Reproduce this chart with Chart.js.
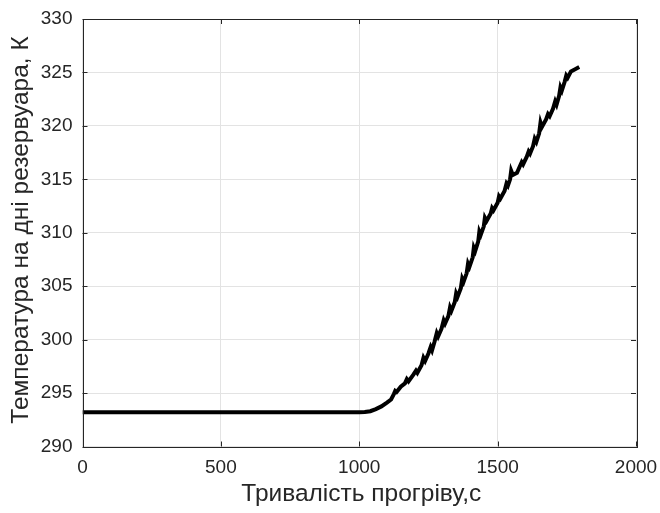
<!DOCTYPE html>
<html>
<head>
<meta charset="utf-8">
<script src="https://cdn.jsdelivr.net/npm/chart.js@4.4.1/dist/chart.umd.min.js"></script>
<style>
html,body{margin:0;padding:0;background:#fff;}
#wrap{width:660px;height:513px;position:relative;}
</style>
</head>
<body>
<div id="wrap"><canvas id="c" width="660" height="513"></canvas></div>
<script>
const timeS = [0,1000,1020,1040,1060,1080,1100,1115,1125,1130,1135,1150,1165,1172,1178,1195,1205,1210,1225,1232,1238,1250,1258,1263,1272,1280,1285,1297,1305,1310,1322,1328,1333,1345,1350,1355,1367,1372,1377,1388,1393,1398,1410,1414,1419,1430,1434,1439,1450,1454,1460,1475,1480,1485,1500,1505,1510,1525,1532,1537,1545,1549,1555,1570,1580,1587,1592,1605,1612,1617,1628,1634,1640,1650,1655,1660,1675,1682,1688,1700,1708,1713,1722,1727,1732,1742,1748,1753,1765,1780,1795];
const tempK = [293.2,293.2,293.22,293.3,293.5,293.75,294.1,294.4,294.9,295.2,295.1,295.6,295.9,296.3,296.1,296.7,297.1,296.9,297.6,298.3,298.0,298.7,299.3,299.0,299.8,300.6,300.3,301.0,301.8,301.5,302.2,303.0,302.7,303.5,304.3,304.0,304.8,305.7,305.4,306.2,307.1,306.8,307.7,308.6,308.3,309.2,310.1,309.8,310.6,311.4,311.1,311.8,312.3,312.1,312.8,313.4,313.2,313.9,314.6,314.4,315.0,315.8,315.4,315.6,316.2,316.6,316.4,317.1,317.6,317.4,318.1,318.8,318.5,319.3,320.3,319.9,320.6,321.1,320.9,321.6,322.3,322.0,322.8,323.6,323.3,324.1,324.7,324.5,325.1,325.3,325.5];
const xTicks = [0,500,1000,1500,2000];
const yTicks = [290,295,300,305,310,315,320,325,330];
const xTitle = 'Тривалість прогріву,с';
const yTitle = 'Температура на дні резервуара, К';

const points = timeS.map((t,i)=>({x:t,y:tempK[i]}));
const FONT = '"Liberation Sans", Arial, sans-serif';
const TXT = '#262626';

const boxPlugin = {
  id:'box',
  afterDraw(chart){
    const {ctx, chartArea:a, scales} = chart;
    ctx.save();
    ctx.strokeStyle = '#262626';
    ctx.lineWidth = 1;
    ctx.strokeRect(Math.round(a.left)+0.5, Math.round(a.top)+0.5, Math.round(a.right-a.left), Math.round(a.bottom-a.top));
    const tl = 5;
    ctx.beginPath();
    xTicks.forEach(v=>{
      const px = Math.round(scales.x.getPixelForValue(v))+0.5;
      ctx.moveTo(px,a.bottom); ctx.lineTo(px,a.bottom-tl);
      ctx.moveTo(px,a.top); ctx.lineTo(px,a.top+tl);
    });
    yTicks.forEach(v=>{
      const py = Math.round(scales.y.getPixelForValue(v))+0.5;
      ctx.moveTo(a.left,py); ctx.lineTo(a.left+tl,py);
      ctx.moveTo(a.right,py); ctx.lineTo(a.right-tl,py);
    });
    ctx.stroke();
    // axis titles
    ctx.fillStyle = TXT;
    ctx.font = '24.5px ' + FONT;
    ctx.textAlign = 'center';
    ctx.textBaseline = 'middle';
    ctx.fillText(xTitle, (a.left+a.right)/2 + 2, 494);
    ctx.translate(21, 230);
    ctx.rotate(-Math.PI/2);
    ctx.fillText(yTitle, 0, 0);
    ctx.restore();
  }
};

new Chart(document.getElementById('c'), {
  type:'scatter',
  data:{datasets:[{
    data:points,
    showLine:true,
    borderColor:'#000',
    borderWidth:4,
    pointRadius:0,
    tension:0,
    fill:false
  }]},
  options:{
    responsive:false,
    animation:false,
    devicePixelRatio:1,
    layout:{padding:{left:0,right:24,top:19,bottom:0}},
    plugins:{legend:{display:false},tooltip:{enabled:false}},
    scales:{
      x:{
        type:'linear', min:0, max:2000,
        afterBuildTicks(s){ s.ticks = xTicks.map(v=>({value:v})); },
        afterFit(s){ s.height = 66.5; s.paddingLeft = 0; s.paddingRight = 0; },
        grid:{color:'#e3e3e3', drawTicks:false, lineWidth:1},
        border:{display:false},
        ticks:{color:TXT, font:{family:FONT,size:19}, padding:10, maxRotation:0, callback:v=>String(v)},
        title:{display:false}
      },
      y:{
        type:'linear', min:290, max:330,
        afterBuildTicks(s){ s.ticks = yTicks.map(v=>({value:v})); },
        afterFit(s){ s.width = 82.5; s.paddingTop = 0; s.paddingBottom = 0; },
        grid:{color:'#e3e3e3', drawTicks:false, lineWidth:1},
        border:{display:false},
        ticks:{color:TXT, font:{family:FONT,size:19}, padding:10, callback:v=>String(v)},
        title:{display:false}
      }
    }
  },
  plugins:[boxPlugin]
});
</script>
</body>
</html>
